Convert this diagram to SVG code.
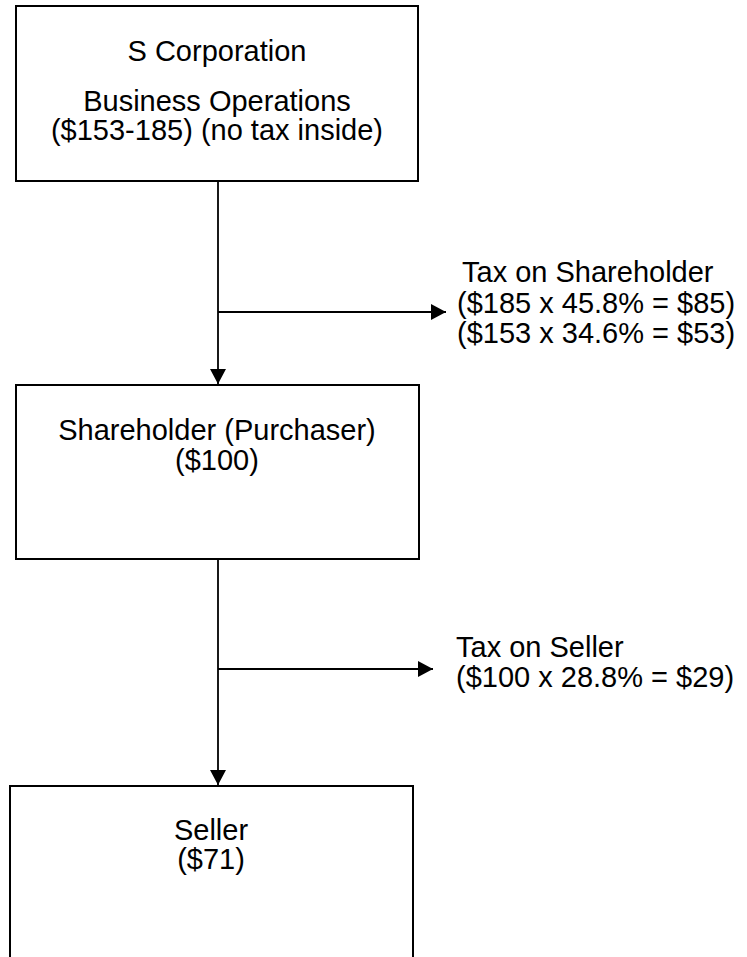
<svg xmlns="http://www.w3.org/2000/svg" width="747" height="957" viewBox="0 0 747 957">
  <style>
    .box { fill: #ffffff; stroke: #000000; stroke-width: 2; }
    .wire { fill: none; stroke: #000000; stroke-width: 1.8; }
    text { font-family: "Liberation Sans", Arial, sans-serif; font-size: 29px; fill: #000000; }
    .mid { text-anchor: middle; }
  </style>
  <defs>
    <marker id="arrow" markerUnits="userSpaceOnUse" markerWidth="16" markerHeight="16" refX="15" refY="8" orient="auto">
      <path d="M0,0 L15,8 L0,16 Z" fill="#000000"/>
    </marker>
  </defs>

  <rect width="747" height="957" fill="#ffffff"/>

  <!-- connectors -->
  <g id="connectors">
    <line class="wire" x1="218" y1="181" x2="218" y2="384" marker-end="url(#arrow)"/>
    <line class="wire" x1="218" y1="312" x2="446" y2="312" marker-end="url(#arrow)"/>
    <line class="wire" x1="218" y1="559" x2="218" y2="785" marker-end="url(#arrow)"/>
    <line class="wire" x1="218" y1="669" x2="433" y2="669" marker-end="url(#arrow)"/>
  </g>

  <!-- S corporation -->
  <g id="s-corporation">
    <rect class="box" x="16" y="6" width="402" height="175"/>
    <text class="mid" x="217" y="61">S Corporation</text>
    <text class="mid" x="217" y="111">Business Operations</text>
    <text class="mid" x="217" y="140">($153-185) (no tax inside)</text>
  </g>

  <!-- shareholder -->
  <g id="shareholder">
    <rect class="box" x="16" y="385" width="403" height="174"/>
    <text class="mid" x="217" y="440">Shareholder (Purchaser)</text>
    <text class="mid" x="217" y="470">($100)</text>
  </g>

  <!-- seller -->
  <g id="seller">
    <rect class="box" x="10" y="786" width="403" height="172"/>
    <text class="mid" x="211" y="840">Seller</text>
    <text class="mid" x="211" y="869">($71)</text>
  </g>

  <!-- tax labels -->
  <g id="tax-shareholder">
    <text x="462" y="282">Tax on Shareholder</text>
    <text x="457" y="313">($185 x 45.8% = $85)</text>
    <text x="457" y="343">($153 x 34.6% = $53)</text>
  </g>

  <g id="tax-seller">
    <text x="456" y="657">Tax on Seller</text>
    <text x="456" y="687">($100 x 28.8% = $29)</text>
  </g>
</svg>
